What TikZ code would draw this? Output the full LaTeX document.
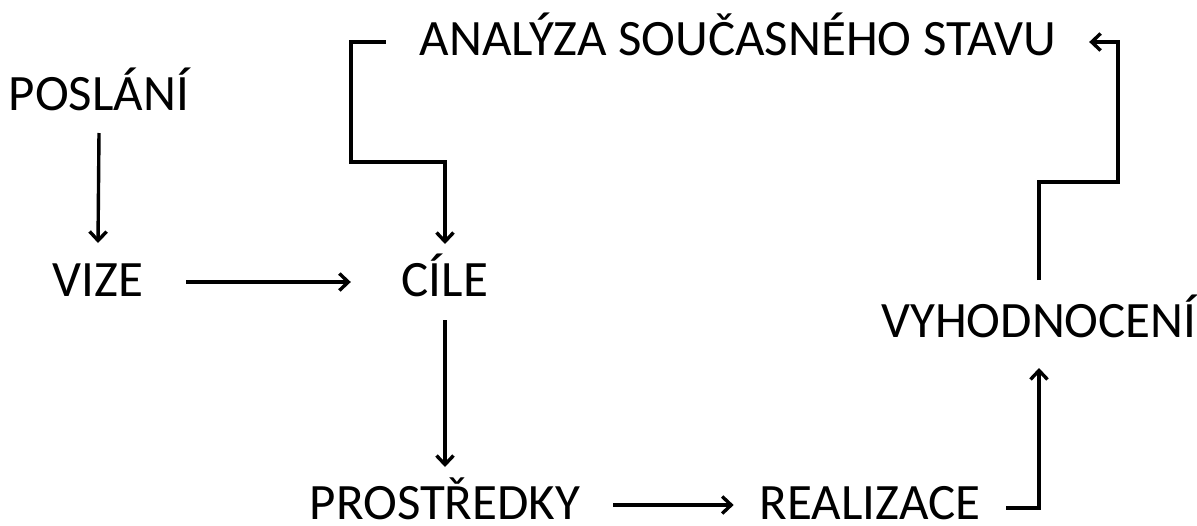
\documentclass[tikz,border=0pt]{standalone}
\usepackage{fontspec}
\setmainfont{Carlito}
\usetikzlibrary{arrows.meta}
\begin{document}
\begin{tikzpicture}[x=1pt,y=-1pt,
  label/.style={inner sep=0pt,outer sep=0pt,anchor=base,font=\fontsize{51}{55}\selectfont},
  flow/.style={line width=3.4pt,-{Straight Barb[length=9pt,width=17pt,line width=3.4pt]}}]
  \useasboundingbox (0,0) rectangle (1197,525);

  % stages of the cycle (placed by their baselines)
  \node[label] (poslani)  at (99,110)   {POSLÁNÍ};
  \node[label] (vize)     at (98,296)   {VIZE};
  \node[label] (cile)     at (445,296)  {CÍLE};
  \node[label] (analyza)  at (738,55)   {ANALÝZA SOUČASNÉHO STAVU};
  \node[label] (vyhod)    at (1039,337) {VYHODNOCENÍ};
  \node[label] (prostr)   at (445,519)  {PROSTŘEDKY};
  \node[label] (realiz)   at (870,519)  {REALIZACE};

  % connectors
  \draw[flow] ([yshift=-23pt]poslani.base) -- ([yshift=53pt]vize.base);
  \draw[flow] ([shift={(43pt,14pt)}]vize.base east) -- ([shift={(-51pt,14pt)}]cile.base west);
  \draw[flow] ([shift={(-34pt,13pt)}]analyza.base west) -- ++(-35,0) -- ++(0,120)
              -| ([yshift=52pt]cile.base);
  \draw[flow] ([yshift=-24pt]cile.base) -- ([yshift=52pt]prostr.base);
  \draw[flow] ([shift={(33pt,14pt)}]prostr.base east) -- ([shift={(-26pt,14pt)}]realiz.base west);
  \draw[flow] ([shift={(26pt,11pt)}]realiz.base east) -| ([yshift=-31pt]vyhod.base);
  \draw[flow] ([yshift=57pt]vyhod.base) -- ++(0,-98) -- ++(79,0)
              |- ([shift={(33pt,13pt)}]analyza.base east);
\end{tikzpicture}
\end{document}
